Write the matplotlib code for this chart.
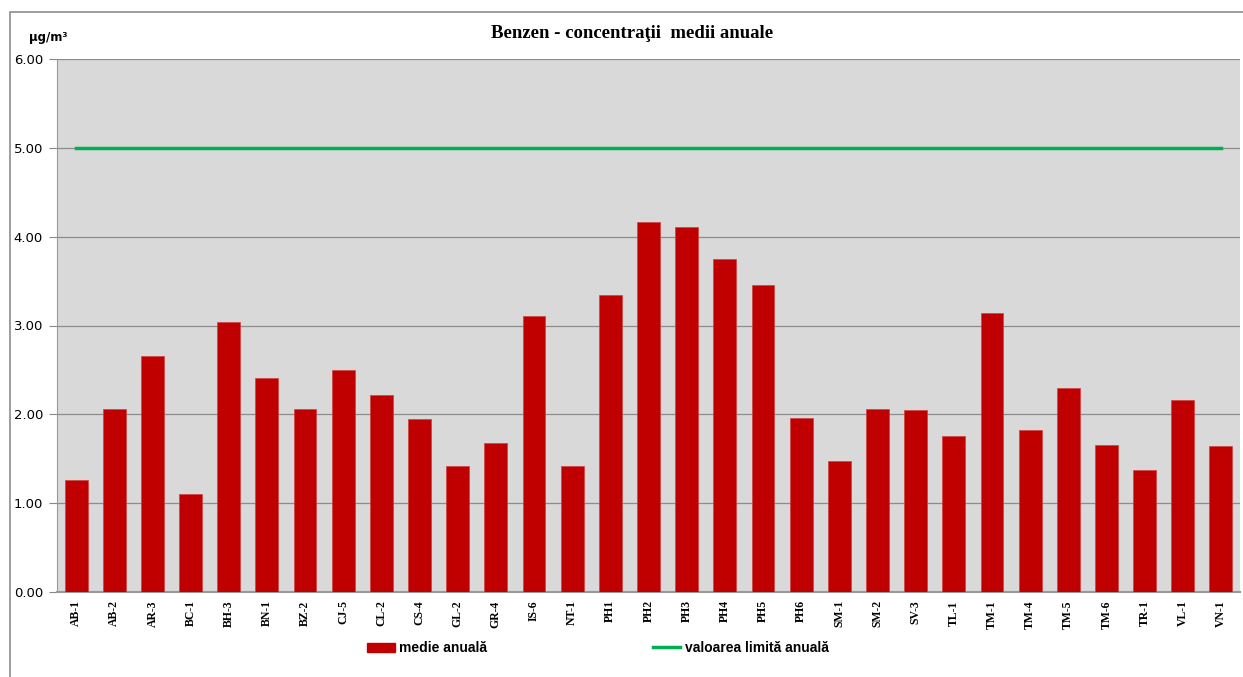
import matplotlib
matplotlib.use("Agg")
import matplotlib.pyplot as plt
import matplotlib.patches as mpatches
import matplotlib.lines as mlines
import numpy as np

# Statii de monitorizare
stations = ["AB-1", "AB-2", "AR-3", "BC-1", "BH-3", "BN-1", "BZ-2", "CJ-5", "CL-2", "CS-4",
            "GL-2", "GR-4", "IS-6", "NT-1", "PH1", "PH2", "PH3", "PH4", "PH5", "PH6",
            "SM-1", "SM-2", "SV-3", "TL-1", "TM-1", "TM-4", "TM-5", "TM-6", "TR-1", "VL-1", "VN-1"]

# Concentratii medii anuale (ug/m3)
annual_mean = [1.26, 2.06, 2.66, 1.10, 3.04, 2.41, 2.06, 2.50, 2.22, 1.95,
               1.42, 1.68, 3.11, 1.42, 3.34, 4.16, 4.11, 3.75, 3.46, 1.96,
               1.48, 2.06, 2.05, 1.76, 3.14, 1.82, 2.30, 1.66, 1.37, 2.16, 1.64]

limit_value = 5.0
y_ticks = [0, 1, 2, 3, 4, 5, 6]

fig = plt.figure(figsize=(12.43, 6.77), dpi=100)
ax = fig.add_axes([57 / 1243, 1 - 592 / 677, (1240 - 57) / 1243, (592 - 59) / 677])

x = np.arange(len(stations))
ax.set_facecolor("#d9d9d9")
ax.bar(x, annual_mean, width=0.6, color="#c00000", edgecolor="#d04040", linewidth=0.5, zorder=3)
ax.plot(x, [limit_value] * len(x), color="#00b050", linewidth=2.5, zorder=4)

ax.set_xlim(-0.5, len(stations) - 0.5)
ax.set_ylim(0, 6)
ax.set_yticks(y_ticks)
ax.set_yticklabels([f"{v:.2f}" for v in y_ticks], fontsize=9.5, family="DejaVu Sans")
ax.set_xticks(x)
ax.set_xticklabels(stations, rotation=90, fontsize=8.5, family="Liberation Serif", fontweight="bold")
ax.tick_params(axis="x", length=0, pad=6)
ax.tick_params(axis="y", length=6, color="#888888", pad=4)
ax.grid(axis="y", color="#8c8c8c", linewidth=0.9, zorder=1)

for side in ["top", "right"]:
    ax.spines[side].set_visible(False)
ax.spines["left"].set_color("#999999")
ax.spines["bottom"].set_color("#999999")
ax.spines["bottom"].set_linewidth(1.5)

fig.text(632 / 1243, 1 - 34 / 677, "Benzen - concentraţii  medii anuale", ha="center", va="center",
         fontsize=13.5, fontweight="bold", family="Liberation Serif")
fig.text(48 / 1243, 1 - 37 / 677, "µg/m³", ha="center", va="center",
         fontsize=8.5, fontweight="bold", family="DejaVu Sans")

# outer chart frame
frame = mpatches.Rectangle((10 / 1243, -0.01), 1.02, 1 - 12 / 677 + 0.01, transform=fig.transFigure,
                           fill=False, edgecolor="#8c8c8c", linewidth=1.2)
fig.patches.append(frame)

bar_handle = mpatches.Patch(color="#c00000", label="medie anuală")
line_handle = mlines.Line2D([], [], color="#00b050", linewidth=2.5, label="valoarea limită anuală")
fig.legend(handles=[bar_handle, line_handle], loc="center", bbox_to_anchor=(598 / 1243, 1 - 648 / 677),
           ncol=2, frameon=False, prop={"family": "Liberation Sans", "size": 10, "weight": "bold"},
           columnspacing=11.9, handlelength=2.0, handleheight=0.6, handletextpad=0.3)

fig.savefig("out.png", dpi=100)
